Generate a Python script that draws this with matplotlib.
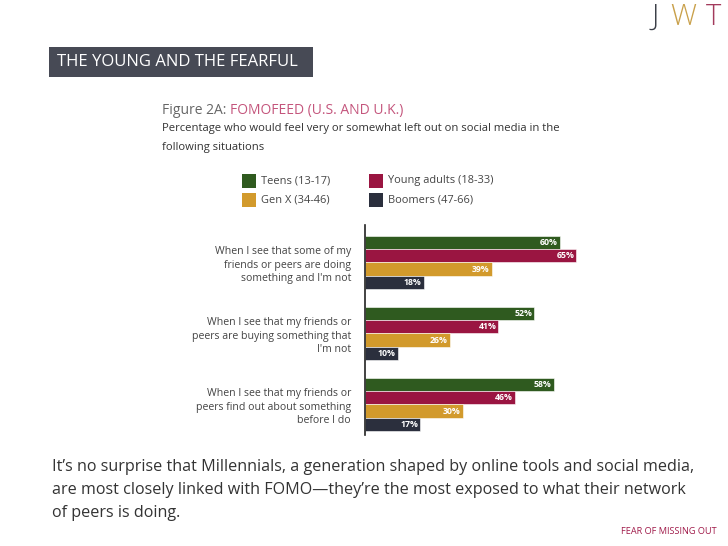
import matplotlib
matplotlib.use("Agg")
import matplotlib.pyplot as plt
from matplotlib.patches import Rectangle
import numpy as np

categories = [
    "When I see that some of my\nfriends or peers are doing\nsomething and I'm not",
    "When I see that my friends or\npeers are buying something that\nI'm not",
    "When I see that my friends or\npeers find out about something\nbefore I do",
]
series_names = ["Teens (13-17)", "Young adults (18-33)", "Gen X (34-46)", "Boomers (47-66)"]
teens = [60, 52, 58]
young_adults = [65, 41, 46]
gen_x = [39, 26, 30]
boomers = [18, 10, 17]

colors = ["#2f5a1f", "#9a1541", "#d29a2c", "#2b2f3d"]

W, H = 728, 546
fig = plt.figure(figsize=(W / 100, H / 100), dpi=100)
fig.patch.set_facecolor("white")

def fx(x):
    return x / W

def fy(y):
    return 1 - y / H

FONT = ["Open Sans", "DejaVu Sans"]

# Header box
fig.patches.append(Rectangle((fx(49), fy(77)), fx(313) - fx(49), (77 - 47) / H,
                             transform=fig.transFigure, facecolor="#474a55",
                             edgecolor="none", zorder=1))
fig.text(fx(57), fy(62), "THE YOUNG AND THE FEARFUL", color="white", fontsize=12,
         family=FONT, va="center", ha="left", zorder=2)

# JWT logo
fig.text(fx(655), fy(25), "J", color="#3c4048", fontsize=21, family=FONT, va="baseline", ha="center", fontweight="light")
fig.text(fx(683), fy(25), "W", color="#c9a04a", fontsize=21, family=FONT, va="baseline", ha="center", fontweight="light")
fig.text(fx(714), fy(25), "T", color="#a33a5c", fontsize=21, family=FONT, va="baseline", ha="center", fontweight="light")

# Figure title
t1 = fig.text(fx(162), fy(111), "Figure 2A: ", color="#666666", fontsize=10, family=FONT, va="center", ha="left")
fig.canvas.draw()
bb = t1.get_window_extent()
fig.text(bb.x1 / W, fy(111), "FOMOFEED (U.S. AND U.K.)", color="#c4557c", fontsize=10,
         family=FONT, va="center", ha="left")
fig.text(fx(162), fy(129), "Percentage who would feel very or somewhat left out on social media in the",
         color="#333333", fontsize=8.1, family=FONT, va="center", ha="left")
fig.text(fx(162), fy(148), "following situations", color="#333333", fontsize=8.1,
         family=FONT, va="center", ha="left")

# Legend
leg_pos = [(242, 181), (369, 181), (242, 200), (369, 200)]
for (lx, ly), name, c in zip(leg_pos, series_names, colors):
    fig.patches.append(Rectangle((fx(lx), fy(ly + 7)), 14 / W, 14 / H,
                                 transform=fig.transFigure, facecolor=c, edgecolor="none"))
    fig.text(fx(lx + 19), fy(ly), name, color="#444444", fontsize=7.9, family=FONT,
             va="center", ha="left")

# Bars axes
ax_left, ax_right = 365, 592
ax_top, ax_bot = 225, 435
ax = fig.add_axes([fx(ax_left), fy(ax_bot), (ax_right - ax_left) / W, (ax_bot - ax_top) / H])
xmax = (ax_right - ax_left) / 3.25
ax.set_xlim(0, xmax)
unit = 71.0
top_off = (262.5 - ax_top) / unit
ax.set_ylim((ax_bot - ax_top) / unit - top_off, -top_off)

bar_h = 13.2 / unit
offsets = np.array([-1.5, -0.5, 0.5, 1.5]) * bar_h
ypos = np.arange(len(categories))
all_series = [teens, young_adults, gen_x, boomers]
for vals, off, c in zip(all_series, offsets, colors):
    bars = ax.barh(ypos + off, vals, height=bar_h, color=c, edgecolor="white", linewidth=0.4)
    for b, v in zip(bars, vals):
        ax.text(v - 0.6, b.get_y() + b.get_height() / 2, f"{v}%", color="white",
                fontsize=6.3, fontweight="bold", family=FONT, ha="right", va="center")

ax.set_yticks(ypos)
ax.set_yticklabels(categories, fontsize=7.6, color="#444444", family=FONT, linespacing=1.3)
ax.tick_params(axis="y", length=0, pad=10)
ax.set_xticks([])
for s in ["top", "right", "bottom"]:
    ax.spines[s].set_visible(False)
ax.spines["left"].set_color("#222222")
ax.spines["left"].set_linewidth(1.2)
ax.patch.set_alpha(0)

# Bottom text
body = ["It\u2019s no surprise that Millennials, a generation shaped by online tools and social media,",
        "are most closely linked with FOMO\u2014they\u2019re the most exposed to what their network",
        "of peers is doing."]
for i, line in enumerate(body):
    fig.text(fx(52), fy(467 + i * 23), line, color="#333333", fontsize=11.6, family=FONT,
             va="center", ha="left")
fig.text(fx(717), fy(532), "FEAR OF MISSING OUT", color="#a01b4a", fontsize=6.6, family=FONT,
         va="center", ha="right")

fig.savefig("out.png", dpi=100)
